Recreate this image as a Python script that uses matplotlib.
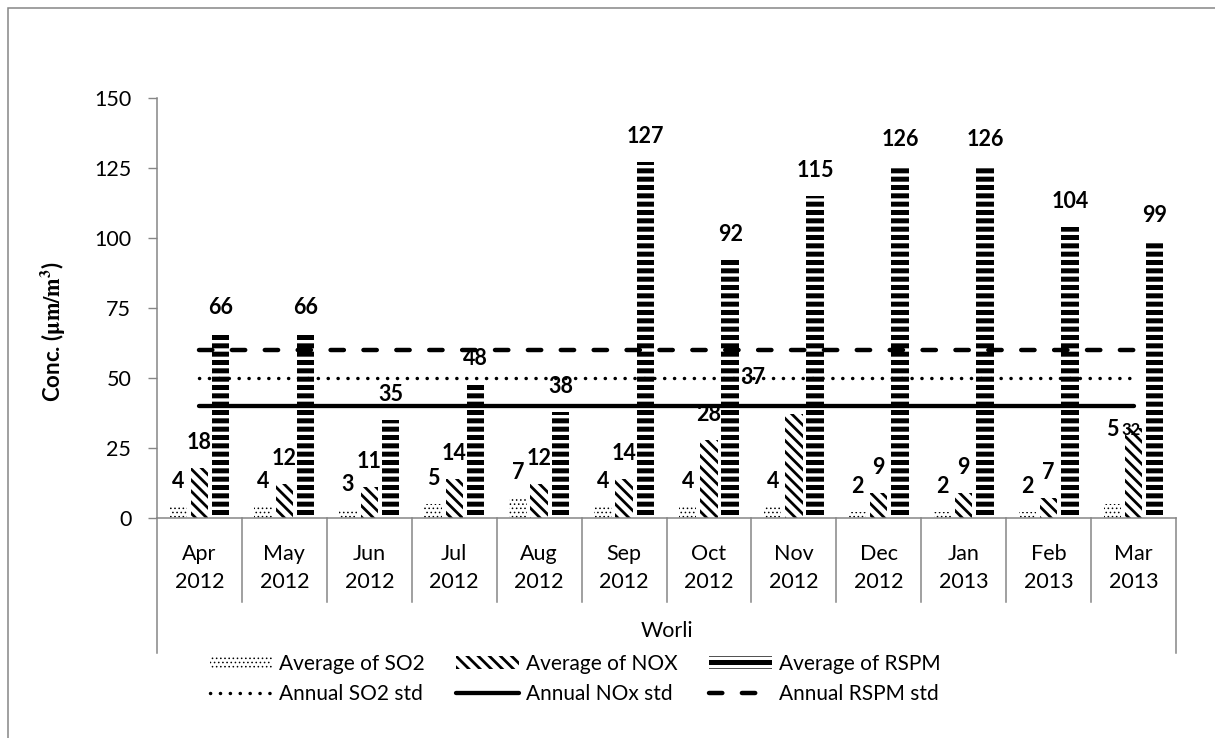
import matplotlib

matplotlib.use("Agg")

import matplotlib.pyplot as plt
from matplotlib.patches import Rectangle
from matplotlib.transforms import blended_transform_factory

plt.rcParams["font.family"] = ["Lato", "DejaVu Sans"]
plt.rcParams["mathtext.fontset"] = "stix"

MONTHS = ["Apr\n2012", "May\n2012", "Jun\n2012", "Jul\n2012", "Aug\n2012", "Sep\n2012",
          "Oct\n2012", "Nov\n2012", "Dec\n2012", "Jan\n2013", "Feb\n2013", "Mar\n2013"]
SO2 = [4, 4, 3, 5, 7, 4, 4, 4, 2, 2, 2, 5]
NOX = [18, 12, 11, 14, 12, 14, 28, 37, 9, 9, 7, 32]
RSPM = [66, 66, 35, 48, 38, 127, 92, 115, 126, 126, 104, 99]
SO2_STD = 50
NOX_STD = 40
RSPM_STD = 60
STATION = "Worli"

GRAY = "#868686"
FS = 15.5
PX = 72 / 100  # points per pixel at dpi 100

HATCH_LW = {"so2": 0.6, "nox": 2.0, "rspm": 3.6}


def hatched_bars(ax, x, values, hatch, hatch_lw, label):
    with plt.rc_context({"hatch.linewidth": hatch_lw}):
        bars = ax.bar(x, values, width=0.205, facecolor="white", edgecolor="black",
                      linewidth=0, hatch=hatch, label=label, zorder=2)
    for patch in bars:
        if hasattr(patch, "set_hatch_linewidth"):
            patch.set_hatch_linewidth(hatch_lw)
    return bars


def main() -> None:
    fig = plt.figure(figsize=(12.15, 7.38), dpi=100)
    ax = fig.add_axes([157 / 1215, 1 - 518 / 738, (1176 - 157) / 1215, 420 / 738])

    x = list(range(len(MONTHS)))
    step = 0.25
    b_so2 = hatched_bars(ax, [i - step for i in x], SO2, "....", HATCH_LW["so2"], "Average of SO2")
    b_nox = hatched_bars(ax, x, NOX, "\\\\\\", HATCH_LW["nox"], "Average of NOX")
    b_rspm = hatched_bars(ax, [i + step for i in x], RSPM, "--", HATCH_LW["rspm"], "Average of RSPM")

    l_so2, = ax.plot(x, [SO2_STD] * len(x), color="black", lw=2.5,
                     linestyle=(0, (0.05, 2.8)), dash_capstyle="round",
                     label="Annual SO2 std", zorder=3)
    l_nox, = ax.plot(x, [NOX_STD] * len(x), color="black", lw=3.1,
                     solid_capstyle="round", label="Annual NOx std", zorder=3)
    l_rspm, = ax.plot(x, [RSPM_STD] * len(x), color="black", lw=3.2,
                      linestyle=(0, (3.0, 4.4)), dash_capstyle="round",
                      label="Annual RSPM std", zorder=3)

    # value labels above each bar; a few were moved by hand to avoid overlaps
    nudges = {("nox", 7): (-41, 11), ("nox", 11): (-2, -26), ("so2", 11): (0, 49)}
    for key, bars, vals in (("so2", b_so2, SO2), ("nox", b_nox, NOX), ("rspm", b_rspm, RSPM)):
        for i, (patch, v) in enumerate(zip(bars, vals)):
            dx, dy = nudges.get((key, i), (0, 0))
            size = 12 if (key, i) == ("nox", 11) else FS
            ax.annotate(str(v), (patch.get_x() + patch.get_width() / 2, v),
                        xytext=(dx * PX, (19 + dy) * PX), textcoords="offset points",
                        ha="center", va="baseline", fontsize=size, fontweight="bold",
                        zorder=4)

    ax.set_xlim(-0.5, len(MONTHS) - 0.5)
    ax.set_ylim(0, 150)
    ax.set_yticks([0, 25, 50, 75, 100, 125, 150])
    ax.tick_params(axis="y", direction="out", length=6.5, width=1, color=GRAY,
                   labelsize=FS, pad=12)
    ax.set_xticks([])
    for side in ("top", "right"):
        ax.spines[side].set_visible(False)
    for side in ("left", "bottom"):
        ax.spines[side].set_color(GRAY)
        ax.spines[side].set_linewidth(1.1)

    # two-level category axis: month boxes and station label
    trans = blended_transform_factory(ax.transData, ax.transAxes)
    for i, name in enumerate(MONTHS):
        ax.text(i, -0.119, name, transform=trans, ha="center", va="center",
                fontsize=FS, linespacing=1.45)
    n = len(MONTHS)
    for k in range(n + 1):
        bottom = -0.321 if k in (0, n) else -0.2
        ax.plot([k - 0.5, k - 0.5], [0, bottom], transform=trans, color=GRAY,
                lw=1.1, clip_on=False)
    ax.text(0.5, -0.269, STATION, transform=ax.transAxes, ha="center", va="center",
            fontsize=FS)

    ax.text(-0.103, 0.443, r"Conc. ($\mathbf{\mu m/m^3}$)", transform=ax.transAxes,
            rotation=90, ha="center", va="center", fontsize=16, fontweight="bold")

    handles = [b_so2, l_so2, b_nox, l_nox, b_rspm, l_rspm]
    leg = fig.legend(handles, [h.get_label() for h in handles], loc="center",
                     bbox_to_anchor=(575 / 1215, 1 - 679 / 738), ncol=3, frameon=False,
                     fontsize=15, handlelength=3.0, handleheight=0.65, handletextpad=0.35,
                     columnspacing=1.5, labelspacing=0.5)
    for patch, key in zip(leg.get_patches(), ("so2", "nox", "rspm")):
        if hasattr(patch, "set_hatch_linewidth"):
            patch.set_hatch_linewidth(HATCH_LW[key])

    # outer chart frame (only the left and top edges fall inside the image)
    fig.patches.append(Rectangle((8 / 1215, -0.1), 1.2, 1 - 8 / 738 + 0.1,
                                 transform=fig.transFigure, fill=False,
                                 edgecolor=GRAY, lw=1.1))

    fig.savefig("out.png", dpi=100)
    plt.close(fig)


if __name__ == "__main__":
    main()
